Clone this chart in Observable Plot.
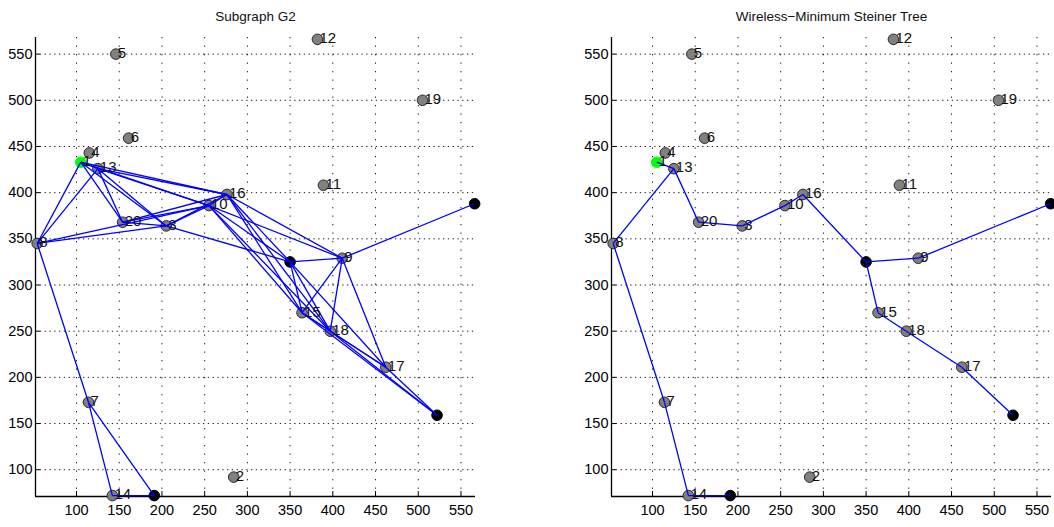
<!DOCTYPE html>
<html><head><meta charset="utf-8">
<script src="https://cdn.jsdelivr.net/npm/d3@7"></script>
<script src="https://cdn.jsdelivr.net/npm/@observablehq/plot@0.6"></script>
<style>
body{margin:0;background:#fff;}
#wrap{position:relative;width:1054px;height:527px;background:#fff;}
#wrap svg{position:absolute;top:0;overflow:visible;}
</style></head><body><div id="wrap"></div>
<script>
// Node data
const nodeIds   = ["1","2","3","4","5","6","7","8","9","10","11","12","13","14","15","16","17","18","19","20","T1","T2","T3","T4"];
const nodeX     = [105,284,205,115,146,161,114,54,411,255,389,382,125,142,364,276,462,397,505,154,566,350,522,191];
const nodeY     = [433,92,364,443,550,459,173,345,329,386,408,566,426,72,270,398,211,250,500,368,388,325,159,72];
const nodeType  = ["source","relay","relay","relay","relay","relay","relay","relay","relay","relay","relay","relay","relay","relay","relay","relay","relay","relay","relay","relay","terminal","terminal","terminal","terminal"];
const nodeLabel = ["1","2","3","4","5","6","7","8","9","10","11","12","13","14","15","16","17","18","19","20","","","",""];

// Edges of subgraph G2
const g2Edges = [
  ["1","8"],["13","8"],["8","10"],["8","3"],["8","7"],
  ["1","13"],["1","20"],["13","20"],["1","3"],["13","3"],["1","16"],["13","16"],["1","10"],["13","10"],
  ["20","10"],["20","16"],["20","3"],["3","10"],["3","16"],["10","16"],
  ["3","T2"],["10","T2"],["16","T2"],
  ["16","9"],["10","9"],["T2","9"],["9","T1"],
  ["16","15"],["10","15"],["T2","15"],
  ["16","18"],["10","18"],["T2","18"],
  ["T2","17"],
  ["9","15"],["9","18"],["9","17"],
  ["15","18"],["15","17"],["18","17"],["15","T3"],["18","T3"],["17","T3"],
  ["7","14"],["7","T4"],["14","T4"]
];
// Edges of the Steiner tree
const treeEdges = [
  ["1","13"],["13","8"],["8","7"],["7","14"],["14","T4"],
  ["13","20"],["20","3"],["3","10"],["10","16"],["16","T2"],
  ["T2","9"],["9","T1"],["T2","15"],["15","18"],["18","17"],["17","T3"]
];

const xTicks = [100,150,200,250,300,350,400,450,500,550];
const yTicks = [100,150,200,250,300,350,400,450,500,550];
const xDomain = [52, 567];
const yDomain = [71, 568];
const titles = ["Subgraph G2", "Wireless\u2212Minimum Steiner Tree"];

const nodes = nodeIds.map((id, i) => ({id, x: nodeX[i], y: nodeY[i], type: nodeType[i], label: nodeLabel[i]}));
const pos = Object.fromEntries(nodes.map(d => [d.id, d]));
const fillOf = {source: "#00ff00", relay: "#808080", terminal: "#000000"};
const strokeOf = {source: "#00ff00", relay: "#2a2a2a", terminal: "#000000"};

function panel(title, edges, width, marginRight) {
  return Plot.plot({
    width, height: 527,
    marginLeft: 35, marginRight, marginTop: 37, marginBottom: 31,
    x: {domain: xDomain, label: null, axis: null},
    y: {domain: yDomain, label: null, axis: null},
    style: {fontFamily: "'Liberation Sans', Arial, sans-serif", fontSize: "14px", background: "transparent", color: "black"},
    marks: [
      Plot.gridX(xTicks, {stroke: "#000", strokeOpacity: 0.9, strokeDasharray: "1.3,7.2"}),
      Plot.gridY(yTicks, {stroke: "#000", strokeOpacity: 0.9, strokeDasharray: "1.3,3.5"}),
      Plot.ruleX([xDomain[0]], {stroke: "#000", strokeWidth: 1.3}),
      Plot.ruleY([yDomain[0]], {stroke: "#000", strokeWidth: 1.3}),
      Plot.axisX(xTicks, {tickSize: 5, dy: -5, fill: "none", label: null}),
      Plot.axisX(xTicks, {tickSize: 0, tickPadding: 8, label: null, fontSize: 14.5}),
      Plot.axisY(yTicks, {tickSize: 5, dx: 5, fill: "none", label: null}),
      Plot.axisY(yTicks, {tickSize: 0, tickPadding: 3, label: null, fontSize: 14.5}),
      Plot.dot(nodes, {x: "x", y: "y", r: 5.3, fill: d => fillOf[d.type], stroke: d => strokeOf[d.type], strokeWidth: 1}),
      Plot.link(edges, {
        x1: d => pos[d[0]].x, y1: d => pos[d[0]].y,
        x2: d => pos[d[1]].x, y2: d => pos[d[1]].y,
        stroke: "#0000ff", strokeWidth: 1.3
      }),
      Plot.text(nodes.filter(d => d.label), {x: "x", y: "y", text: "label", textAnchor: "start", dx: 2, dy: -1, fontSize: 15, fill: "#111"}),
      Plot.text([title], {text: d => d, frameAnchor: "top", lineAnchor: "middle", dy: -21, fontSize: 13.5, fill: "#111"})
    ]
  });
}

const wrap = document.getElementById("wrap");
const left = panel(titles[0], g2Edges, 527, 52);
left.style.left = "0px";
wrap.appendChild(left);
const right = panel(titles[1], treeEdges, 478, 3);
right.style.left = "576px";
wrap.appendChild(right);
</script>
</body></html>
